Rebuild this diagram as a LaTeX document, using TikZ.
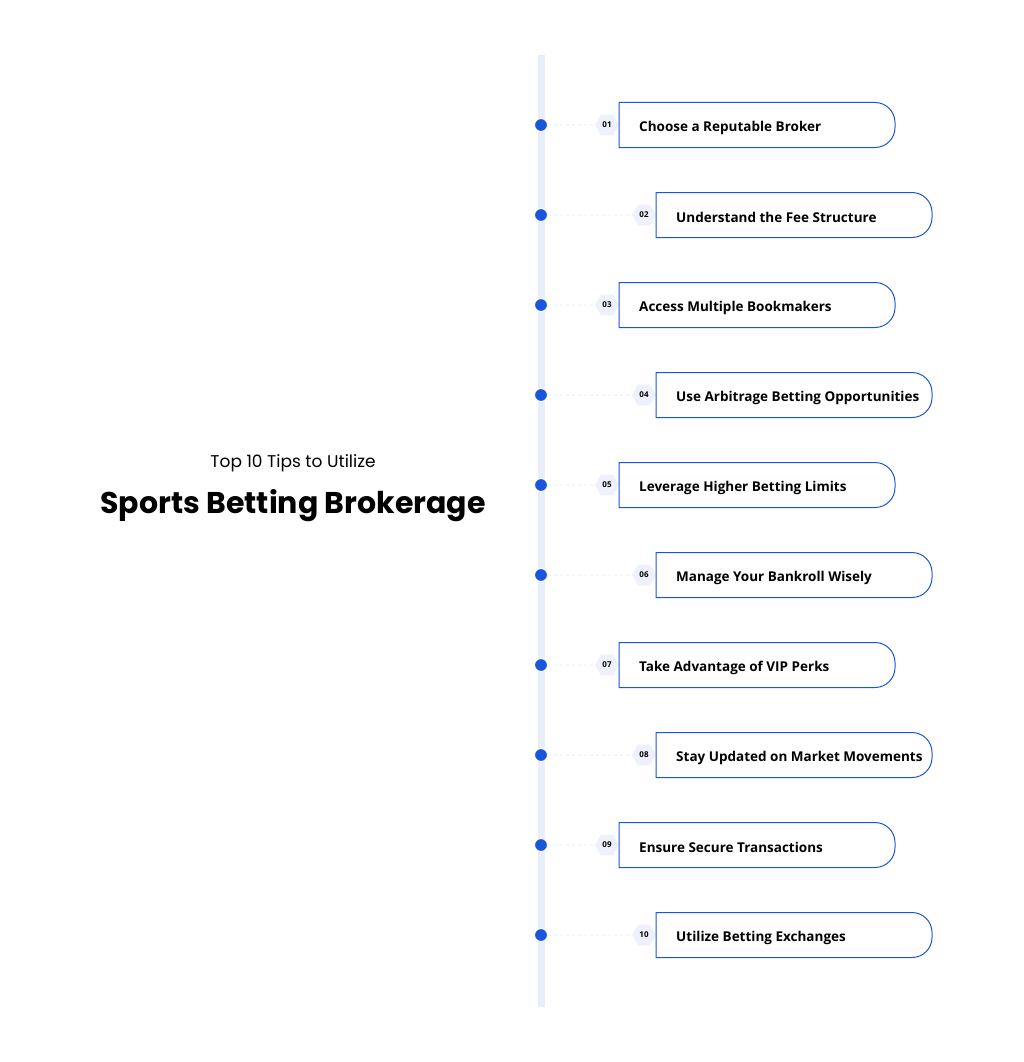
\documentclass[tikz,border=0pt]{standalone}
\usepackage{fontspec}
\setmainfont{Open Sans}
\newfontfamily\pop{Poppins}
\usetikzlibrary{shapes.geometric}
\definecolor{bar}{HTML}{E9EEFC}
\definecolor{blu}{HTML}{1A56DB}
\definecolor{tagbg}{HTML}{EEF1FC}
\tikzset{
 dotn/.style={circle,fill=blu,draw=white,line width=1pt,minimum size=13pt,inner sep=0pt},
 tagn/.style={regular polygon,regular polygon sides=6,fill=tagbg,minimum size=24pt,inner sep=0pt,font=\bfseries\fontsize{8}{9}\selectfont},
 lnk/.style={draw=bar,dashed,line width=1pt},
 boxtxt/.style={anchor=west,font=\bfseries\fontsize{13.5}{15}\selectfont,inner sep=0pt}
}
\begin{document}
\begin{tikzpicture}[x=1pt,y=-1pt]
\useasboundingbox (0,0) rectangle (1024,1062);
\fill[bar] (537.5,55) rectangle (544.5,1007);
\node[font=\pop\fontsize{17}{20}\selectfont] (sub) at (293,463) {Top 10 Tips to Utilize};
\node[font=\pop\bfseries\fontsize{30}{34}\selectfont] (ttl) at (293,506) {Sports Betting Brokerage};
\foreach \i/\t in {1/Choose a Reputable Broker,2/Understand the Fee Structure,3/Access Multiple Bookmakers,4/Use Arbitrage Betting Opportunities,5/Leverage Higher Betting Limits,6/Manage Your Bankroll Wisely,7/Take Advantage of VIP Perks,8/Stay Updated on Market Movements,9/Ensure Secure Transactions,10/Utilize Betting Exchanges}{
 \pgfmathsetmacro{\yy}{125+90*(\i-1)}
 \pgfmathsetmacro{\xx}{mod(\i,2)==1 ? 619 : 656}
 \node[tagn] (tag\i) at (\xx-12,\yy) {\ifnum\i<10 0\fi\i};
 \path[fill=white,draw=blu,line width=1pt] (\xx,\yy-22.5) -- (\xx+256,\yy-22.5) arc[start angle=-90,end angle=0,radius=20] -- (\xx+276,\yy+2.5) arc[start angle=0,end angle=90,radius=20] -- (\xx,\yy+22.5) -- cycle;
 \node[boxtxt] (b\i) at (\xx+20,\yy+2.5) {\t};
 \node[dotn] (d\i) at (541,\yy) {};
 \draw[lnk] (d\i) -- (tag\i);
}
\end{tikzpicture}
\end{document}
